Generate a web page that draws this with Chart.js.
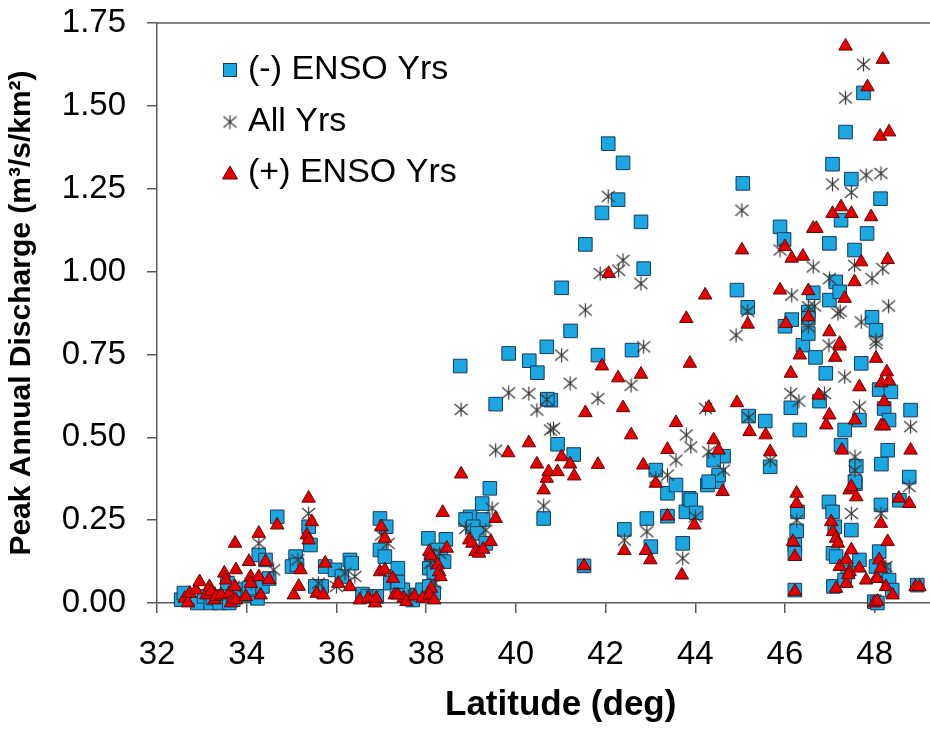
<!DOCTYPE html>
<html>
<head>
<meta charset="utf-8">
<script src="https://cdn.jsdelivr.net/npm/chart.js@4.4.1/dist/chart.umd.min.js"></script>
<style>
  html, body { margin: 0; padding: 0; background: #fff; overflow: hidden; }
  #wrap { width: 930px; height: 729px; overflow: hidden; }
</style>
</head>
<body>
<div id="wrap"><canvas id="dischargeChart" width="975" height="729"></canvas></div>
<script>
// tick labels
const xTicks = [32, 34, 36, 38, 40, 42, 44, 46, 48];
const yTicks = [0, 0.25, 0.5, 0.75, 1.0, 1.25, 1.5, 1.75];

// [latitude, peak annual discharge]
const negEnsoYrs = [
  [32.54,0.01],[32.6,0.03],[32.9,0.0],[33.05,0.02],[33.2,0.0],[33.25,0.015],[33.4,0.0],[33.5,0.02],
  [33.61,0.0],[33.57,0.06],[33.7,0.01],[33.87,0.04],[34.02,0.024],[34.24,0.014],[34.2,0.04],[34.35,0.05],
  [34.05,0.045],[34.27,0.145],[34.42,0.13],[34.5,0.074],[34.68,0.26],
  [35.09,0.14],[35.01,0.11],[35.12,0.115],[35.38,0.23],[35.42,0.175],[35.75,0.11],[35.97,0.1],[36.12,0.08],
  [36.3,0.13],[36.34,0.12],[35.67,0.05],[35.53,0.05],[36.58,0.027],[36.7,0.02],[36.9,0.02],[36.97,0.255],
  [37.11,0.23],[36.97,0.16],[37.08,0.14],[37.3,0.08],[37.2,0.06],[37.35,0.04],[37.59,0.024],[37.81,0.024],
  [37.7,0.009],[37.48,0.04],[37.37,0.064],[37.37,0.105],[37.92,0.04],[38.05,0.195],[38.44,0.192],[38.26,0.16],
  [38.11,0.13],[38.07,0.105],[38.17,0.09],[38.33,0.14],[38.4,0.125],[38.07,0.05],[38.17,0.03],
  [38.76,0.715],[38.98,0.26],[38.88,0.252],[39.27,0.252],[39.05,0.23],[39.14,0.21],[39.33,0.18],[39.25,0.3],
  [39.42,0.346],[39.55,0.6],[39.84,0.753],[40.3,0.731],[40.48,0.695],[40.69,0.773],[40.78,0.612],[40.7,0.615],
  [40.62,0.255],[40.93,0.479],[41.29,0.448],[41.02,0.951],[41.22,0.821],[41.52,0.112],[41.55,1.082],[41.83,0.748],
  [41.92,1.177],[42.06,1.386],[42.28,1.217],[42.39,1.328],[42.59,0.763],[42.79,1.15],[42.85,1.009],[42.42,0.222],
  [42.92,0.255],[43.01,0.17],[43.12,0.401],[43.38,0.331],[43.38,0.262],[43.57,0.356],[43.72,0.18],[43.86,0.316],
  [43.79,0.275],[43.9,0.311],[44.02,0.272],[44.27,0.356],[44.49,0.366],[44.63,0.443],[44.41,0.431],[44.52,0.386],
  [44.3,0.366],[44.93,0.944],[45.06,1.266],[45.17,0.892],[45.19,0.564],[45.56,0.549],[45.67,0.411],[45.89,1.135],
  [45.98,1.097],[46.0,0.835],[46.15,0.855],[46.13,0.589],[46.26,0.218],[46.28,0.275],[46.22,0.175],[46.22,0.15],
  [46.22,0.039],[46.33,0.522],[46.4,0.778],[46.52,0.878],[46.52,0.859],[46.52,0.813],[46.63,0.936],[46.68,0.741],
  [46.77,0.609],[46.91,0.693],[46.99,1.085],[46.99,0.914],[46.98,0.305],[47.06,0.275],[47.11,0.23],[47.07,0.15],
  [47.14,0.14],[47.08,0.05],[47.06,1.324],[47.13,0.969],[47.22,0.939],[47.25,1.155],[47.25,0.476],[47.33,0.522],
  [47.35,1.421],[47.4,0.094],[47.33,0.069],[47.48,1.279],[47.48,0.22],[47.55,1.065],[47.57,0.36],[47.59,0.413],
  [47.56,0.366],[47.66,0.552],[47.66,0.13],[47.7,0.723],[47.75,1.539],[47.83,1.115],[47.94,0.862],[48.03,0.823],
  [48.13,1.22],[48.1,0.644],[48.36,0.637],[48.21,0.587],[48.32,0.552],[48.29,0.461],[48.15,0.419],[48.14,0.296],
  [48.1,0.155],[48.03,0.11],[48.21,0.1],[48.32,0.069],[48.39,0.039],[47.99,0.004],[48.06,0.0],[48.55,0.31],
  [48.77,0.38],[48.8,0.582],[48.95,0.054]
];

const allYrs = [
  [32.7,0.01],[33.3,0.03],[33.7,0.05],[34.1,0.06],[34.27,0.18],[34.6,0.1],[35.14,0.13],[35.38,0.27],
  [35.6,0.06],[36.0,0.05],[36.19,0.09],[36.41,0.08],[36.8,0.02],[37.0,0.205],[37.15,0.18],[37.6,0.02],
  [38.1,0.12],[38.3,0.15],[38.2,0.06],
  [38.78,0.584],[38.88,0.225],[39.33,0.22],[39.47,0.286],[39.55,0.461],[39.84,0.634],[40.29,0.632],[40.47,0.582],
  [40.62,0.293],[40.69,0.614],[40.77,0.522],[40.84,0.527],[41.02,0.748],[41.21,0.663],[41.55,0.884],[41.83,0.617],
  [41.88,0.994],[42.06,1.227],[42.29,1.004],[42.39,1.034],[42.42,0.19],[42.57,0.657],[42.79,0.964],[42.85,0.773],
  [42.92,0.215],[43.12,0.377],[43.38,0.386],[43.57,0.431],[43.72,0.135],[43.8,0.507],[43.9,0.471],[44.0,0.26],
  [44.23,0.587],[44.3,0.456],[44.63,0.401],[44.91,0.808],[45.04,1.185],[45.17,0.88],[45.19,0.56],[45.67,0.43],
  [45.89,1.065],[46.15,0.929],[46.13,0.632],[46.31,0.609],[46.26,0.25],[46.52,0.894],[46.66,0.896],[46.52,0.833],
  [46.63,1.014],[46.88,0.632],[46.98,0.778],[46.99,0.979],[47.06,1.264],[47.18,0.874],[47.23,0.88],[47.33,0.682],
  [47.35,1.524],[47.48,1.239],[47.48,0.27],[47.55,1.019],[47.56,0.441],[47.56,0.4],[47.66,0.592],[47.7,0.848],
  [47.75,1.625],[47.81,1.291],[47.94,0.979],[48.03,0.783],[48.03,0.793],[48.14,1.296],[48.14,0.27],[48.18,1.009],
  [48.25,0.11],[48.31,0.896],[48.77,0.351],[48.8,0.532]
];

const posEnsoYrs = [
  [32.62,0.014],[32.69,0.0],[32.73,0.029],[32.87,0.039],[32.95,0.064],[33.1,0.024],[33.17,0.049],[33.21,0.034],
  [33.28,0.009],[33.32,0.019],[33.43,0.024],[33.5,0.09],[33.54,0.069],[33.61,0.029],[33.65,0.0],[33.74,0.049],
  [33.74,0.18],[33.76,0.1],[33.76,0.009],[33.98,0.019],[34.05,0.125],[34.09,0.079],[34.09,0.059],[34.27,0.21],
  [34.27,0.079],[34.31,0.024],[34.42,0.125],[34.5,0.07],[34.68,0.235],[35.05,0.024],[35.16,0.05],[35.2,0.1],
  [35.34,0.205],[35.38,0.19],[35.38,0.316],[35.45,0.245],[35.56,0.029],[35.71,0.024],[35.75,0.12],[36.04,0.059],
  [36.3,0.049],[36.52,0.009],[36.71,0.014],[36.86,0.0],[36.89,0.014],[36.97,0.094],[37.0,0.23],[37.08,0.195],
  [37.08,0.1],[37.26,0.074],[37.3,0.024],[37.5,0.015],[37.37,0.024],[37.56,0.004],[37.74,0.021],[37.92,0.014],
  [38.07,0.155],[38.11,0.142],[38.26,0.115],[38.29,0.094],[38.32,0.079],[38.11,0.044],[38.07,0.024],[38.18,0.009],
  [38.46,0.165],[38.37,0.273],[38.78,0.389],[38.96,0.19],[39.03,0.18],[39.1,0.155],[39.18,0.15],[39.27,0.162],
  [39.44,0.185],[39.55,0.255],[39.83,0.453],[40.29,0.483],[40.47,0.419],[40.62,0.341],[40.69,0.376],[40.73,0.396],
  [40.93,0.396],[41.02,0.441],[41.21,0.419],[41.3,0.383],[41.52,0.112],[41.55,0.574],[41.83,0.418],[41.92,0.715],
  [42.07,0.994],[42.28,0.679],[42.39,0.589],[42.42,0.158],[42.57,0.507],[42.79,0.69],[42.84,0.416],[42.9,0.158],
  [43.0,0.13],[43.12,0.361],[43.38,0.463],[43.38,0.262],[43.57,0.544],[43.7,0.084],[43.8,0.858],[43.88,0.723],
  [43.98,0.235],[44.22,0.929],[44.3,0.59],[44.41,0.492],[44.52,0.461],[44.61,0.336],[44.93,0.604],[45.04,1.065],
  [45.17,0.841],[45.21,0.517],[45.57,0.507],[45.67,0.456],[45.89,0.944],[46.0,1.075],[46.02,0.843],[46.13,0.693],
  [46.15,1.04],[46.18,0.185],[46.22,0.14],[46.22,0.035],[46.26,0.331],[46.26,0.3],[46.33,0.748],[46.4,1.046],
  [46.52,0.942],[46.52,0.863],[46.63,1.13],[46.7,1.13],[46.75,0.627],[46.92,0.537],[46.99,0.567],[46.99,0.818],
  [47.03,0.245],[47.06,1.175],[47.07,0.215],[47.12,0.741],[47.14,0.195],[47.18,0.18],[47.22,0.11],[47.14,0.044],
  [47.22,0.775],[47.22,0.783],[47.25,1.195],[47.27,0.461],[47.33,0.919],[47.35,1.68],[47.37,0.059],[47.37,0.13],
  [47.44,0.341],[47.44,0.095],[47.41,0.085],[47.48,1.175],[47.48,0.351],[47.48,0.16],[47.55,0.969],[47.56,0.552],
  [47.59,0.32],[47.66,0.652],[47.66,0.105],[47.7,1.029],[47.81,0.069],[47.84,1.557],[47.92,1.165],[48.03,0.738],
  [48.03,0.074],[48.06,0.074],[47.99,0.0],[48.06,0.005],[48.1,0.13],[48.14,0.105],[48.12,1.408],[48.14,0.534],
  [48.14,0.24],[48.15,0.664],[48.18,1.64],[48.21,0.534],[48.21,0.607],[48.25,0.049],[48.27,0.697],[48.29,1.036],
  [48.29,0.185],[48.32,0.67],[48.32,1.421],[48.4,0.024],[48.54,0.316],[48.77,0.3],[48.8,0.461],[48.91,0.049],
  [49.0,0.049]
];

const FONT = "'Liberation Sans', Arial, sans-serif";
const AXIS = "#5a5a5a";
const BLUE = "#1aa7e2", BLUE_EDGE = "#173a58";
const RED = "#e60000", RED_EDGE = "#5c0a0a";

// Excel-style asterisk marker (x with a vertical bar)
const star = document.createElement("canvas");
star.width = 15;
star.height = 15;
(() => {
  const s = star.getContext("2d");
  s.strokeStyle = "#383838";
  s.lineWidth = 1.2;
  s.beginPath();
  s.moveTo(7.5, 0.5); s.lineTo(7.5, 14.5);
  s.moveTo(1, 2); s.lineTo(14, 13);
  s.moveTo(14, 2); s.lineTo(1, 13);
  s.stroke();
})();

const toPts = (arr) => arr.map(([x, y]) => ({ x, y }));

const frame = {
  id: "frame",
  beforeDatasetsDraw(chart) {
    const { ctx, chartArea: a } = chart;
    ctx.save();
    ctx.strokeStyle = AXIS;
    ctx.lineWidth = 1.5;
    ctx.beginPath();
    ctx.moveTo(a.left, a.top);
    ctx.lineTo(a.right, a.top);
    ctx.stroke();
    ctx.restore();
  },
  afterDraw(chart) {
    const { ctx } = chart;
    const mx = 230, tx = 248;
    const rows = [70, 122, 173];
    ctx.save();
    ctx.lineWidth = 1;
    ctx.fillStyle = BLUE;
    ctx.strokeStyle = BLUE_EDGE;
    ctx.fillRect(mx - 6.5, rows[0] - 6.5, 13, 13);
    ctx.strokeRect(mx - 6.5, rows[0] - 6.5, 13, 13);
    ctx.drawImage(star, mx - 7.5, rows[1] - 7.5);
    ctx.fillStyle = RED;
    ctx.strokeStyle = RED_EDGE;
    ctx.beginPath();
    ctx.moveTo(mx, rows[2] - 7);
    ctx.lineTo(mx + 7.5, rows[2] + 6);
    ctx.lineTo(mx - 7.5, rows[2] + 6);
    ctx.closePath();
    ctx.fill();
    ctx.stroke();
    ctx.fillStyle = "#000";
    ctx.font = "34px " + FONT;
    ctx.textBaseline = "middle";
    ctx.fillText("(-) ENSO Yrs", tx, rows[0]);
    ctx.fillText("All Yrs", tx, rows[1]);
    ctx.fillText("(+) ENSO Yrs", tx, rows[2]);
    ctx.restore();
  },
};

new Chart(document.getElementById("dischargeChart"), {
  type: "scatter",
  data: {
    datasets: [
      {
        label: "(+) ENSO Yrs",
        data: toPts(posEnsoYrs),
        pointStyle: "triangle",
        radius: 7.8,
        backgroundColor: RED,
        borderColor: RED_EDGE,
        borderWidth: 1,
        clip: false,
      },
      {
        label: "All Yrs",
        data: toPts(allYrs),
        pointStyle: star,
        radius: 7,
        clip: false,
      },
      {
        label: "(-) ENSO Yrs",
        data: toPts(negEnsoYrs),
        pointStyle: "rect",
        radius: 9.6,
        backgroundColor: BLUE,
        borderColor: BLUE_EDGE,
        borderWidth: 1,
        clip: false,
      },
    ],
  },
  options: {
    responsive: false,
    animation: false,
    devicePixelRatio: 1,
    layout: { padding: { top: 23, right: 3, bottom: 0, left: 0 } },
    plugins: { legend: { display: false }, tooltip: { enabled: false } },
    scales: {
      x: {
        type: "linear",
        min: 32,
        max: 50,
        afterBuildTicks: (s) => { s.ticks = xTicks.map((v) => ({ value: v })); },
        afterFit: (s) => {
          s.height = 126;
          s.paddingLeft = 0;
          s.paddingRight = 0;
        },
        border: { color: AXIS, width: 1.5 },
        grid: { drawOnChartArea: false, tickLength: 10, color: AXIS, lineWidth: 1.5 },
        ticks: { color: "#000", font: { size: 33, family: FONT }, padding: 22, maxRotation: 0 },
        title: {
          display: true,
          text: "Latitude (deg)",
          color: "#000",
          font: { size: 35, weight: "bold", family: FONT },
          padding: { top: 0, bottom: 3 },
        },
      },
      y: {
        type: "linear",
        min: 0,
        max: 1.75,
        afterBuildTicks: (s) => { s.ticks = yTicks.map((v) => ({ value: v })); },
        afterFit: (s) => {
          s.width = 157;
          s.paddingTop = 0;
          s.paddingBottom = 0;
        },
        border: { color: AXIS, width: 1.5 },
        grid: { drawOnChartArea: false, tickLength: 10, color: AXIS, lineWidth: 1.5 },
        ticks: {
          color: "#000",
          font: { size: 33, family: FONT },
          padding: 21,
          callback: (v) => Number(v).toFixed(2),
        },
        title: {
          display: true,
          text: "Peak Annual Discharge (m³/s/km²)",
          color: "#000",
          font: { size: 30, weight: "bold", family: FONT },
          padding: { top: 4, bottom: 0 },
        },
      },
    },
  },
  plugins: [frame],
});
</script>
</body>
</html>
